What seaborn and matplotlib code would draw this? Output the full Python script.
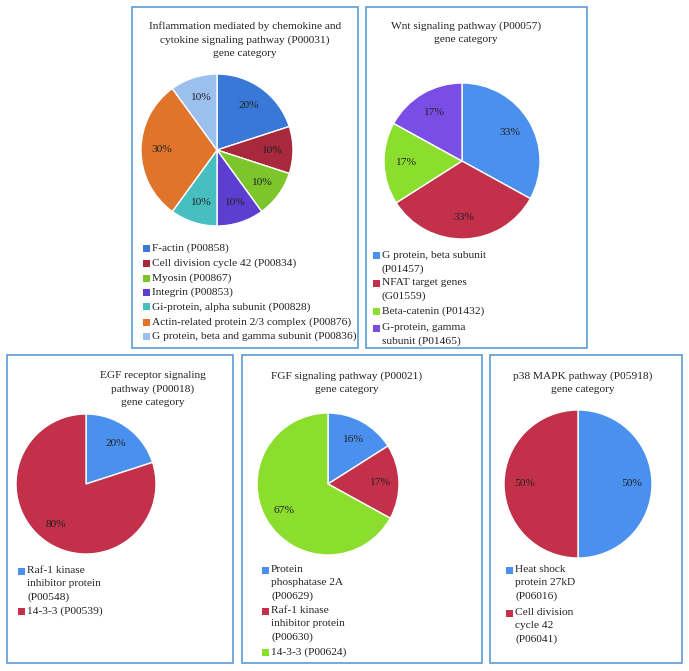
import matplotlib
matplotlib.use("Agg")
import matplotlib.pyplot as plt
from matplotlib.patches import Rectangle
import seaborn as sns

# ---- data ----
infl_labels = ["F-actin (P00858)", "Cell division cycle 42 (P00834)", "Myosin (P00867)",
               "Integrin (P00853)", "Gi-protein, alpha subunit (P00828)",
               "Actin-related protein 2/3 complex (P00876)",
               "G protein, beta and gamma subunit (P00836)"]
infl_values = [20, 10, 10, 10, 10, 30, 10]

wnt_labels = ["G protein, beta subunit\n(P01457)", "NFAT target genes\n(G01559)",
              "Beta-catenin (P01432)", "G-protein, gamma\nsubunit (P01465)"]
wnt_values = [33, 33, 17, 17]

egf_labels = ["Raf-1 kinase\ninhibitor protein\n(P00548)", "14-3-3 (P00539)"]
egf_values = [20, 80]

fgf_labels = ["Protein\nphosphatase 2A\n(P00629)", "Raf-1 kinase\ninhibitor protein\n(P00630)",
              "14-3-3 (P00624)"]
fgf_values = [16, 17, 67]

p38_labels = ["Heat shock\nprotein 27kD\n(P06016)", "Cell division\ncycle 42\n(P06041)"]
p38_values = [50, 50]

infl_colors = sns.color_palette(["#3A78D8", "#A8283C", "#7CC52A", "#5C3ED0",
                                 "#47BFC0", "#E0742A", "#9CC0EE"])
std_colors = sns.color_palette(["#4A90EE", "#C2304A", "#8BDD2E", "#7A4EE6"])

sns.set_theme(style="white")
plt.rcParams['font.family'] = ['Liberation Serif', 'DejaVu Serif']

W, H = 689, 671
fig = plt.figure(figsize=(W / 100, H / 100), dpi=100)
fig.patch.set_facecolor("white")
FS = 8.2
LS = 1.58


def fx(x):
    return x / W


def fy(y):
    return 1 - y / H


def box(x0, y0, x1, y1):
    fig.add_artist(Rectangle((fx(x0), fy(y1)), fx(x1) - fx(x0), fy(y0) - fy(y1),
                             transform=fig.transFigure, fill=False,
                             edgecolor="#5B9BD5", linewidth=1.2))


def pie(cx, cy, r, values, colors):
    ax = fig.add_axes([fx(cx - r), fy(cy + r), 2 * r / W, 2 * r / H])
    ax.pie(values, colors=colors, startangle=90, counterclock=False, radius=1,
           autopct="%d%%", pctdistance=0.72,
           textprops=dict(fontsize=FS, color="#222222"))
    ax.set_xlim(-1, 1)
    ax.set_ylim(-1, 1)
    ax.set_aspect("equal")
    ax.axis("off")
    return ax


def title(x, y, text):
    fig.text(fx(x), fy(y), text, ha="center", va="top", fontsize=FS,
             color="#222222", linespacing=LS)


def legend(x, y_rows, labels, colors):
    # small square marker next to the first line of each label
    s = 7
    for lab, yy, c in zip(labels, y_rows, colors):
        fig.add_artist(Rectangle((fx(x), fy(yy + s / 2)), s / W, s / H,
                                 transform=fig.transFigure, color=c, linewidth=0))
        fig.text(fx(x + 9), fy(yy - 5), lab, ha="left", va="top", fontsize=FS,
                 color="#222222", linespacing=LS)


# panel boxes
box(132, 7, 358, 348)
box(366, 7, 587, 348)
box(7, 355, 233, 663)
box(242, 355, 482, 663)
box(490, 355, 682, 663)

# panel 1: inflammation
title(245, 21, "Inflammation mediated by chemokine and\ncytokine signaling pathway (P00031)\ngene category")
pie(217, 150, 76, infl_values, infl_colors)
legend(143, [248, 263, 278, 292, 307, 322, 336], infl_labels, infl_colors)

# panel 2: Wnt
title(466, 21, "Wnt signaling pathway (P00057)\ngene category")
pie(462, 161, 78, wnt_values, std_colors)
legend(373, [256, 283, 311, 328], wnt_labels, std_colors)

# panel 3: EGF
title(153, 371, "EGF receptor signaling\npathway (P00018)\ngene category")
pie(86, 484, 70, egf_values, std_colors)
legend(18, [571, 611], egf_labels, std_colors)

# panel 4: FGF
title(347, 371, "FGF signaling pathway (P00021)\ngene category")
pie(328, 484, 71, fgf_values, std_colors)
legend(262, [570, 611, 652], fgf_labels, std_colors)

# panel 5: p38 MAPK
title(583, 371, "p38 MAPK pathway (P05918)\ngene category")
pie(578, 484, 74, p38_values, std_colors)
legend(506, [570, 613], p38_labels, std_colors)

fig.savefig("out.png", dpi=100, facecolor="white")
